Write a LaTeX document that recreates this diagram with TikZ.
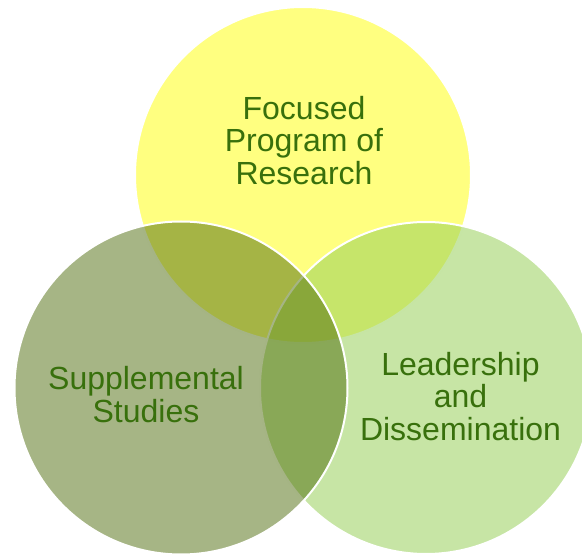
\documentclass[tikz,border=0pt]{standalone}
\usepackage{fontspec}
\setmainfont{Liberation Sans}
\definecolor{focusyellow}{RGB}{255,255,128}
\definecolor{leadgreen}{RGB}{151,207,88}
\definecolor{suppolive}{RGB}{77,107,11}
\definecolor{labelgreen}{RGB}{56,112,12}

\begin{document}
\begin{tikzpicture}[x=1pt,y=-1pt,
	ring/.style={circle, draw=white, line width=2pt, inner sep=0pt, minimum size=#1},
	venntext/.style={align=center, inner sep=0pt, text=labelgreen, font=\fontsize{32}{32.4}\selectfont}]
		\useasboundingbox (0,0) rectangle (582,556);
		% the three circles, top one first
		\node[ring=336pt, fill=focusyellow] (focus) at (303,175) {};
		\node[ring=332pt, fill=leadgreen, fill opacity=0.54] (lead) at (426,388) {};
		\node[ring=333pt, fill=suppolive, fill opacity=0.5] (supp) at (181,388) {};
		% labels
		\node[venntext] (focustext) at (304,140.5) {Focused\\Program of\\Research};
		\node[venntext] (supptext) at (146,394.5) {Supplemental\\Studies};
		\node[venntext] (leadtext) at (460.5,396.5) {Leadership\\and\\Dissemination};
		\end{tikzpicture}
\end{document}
